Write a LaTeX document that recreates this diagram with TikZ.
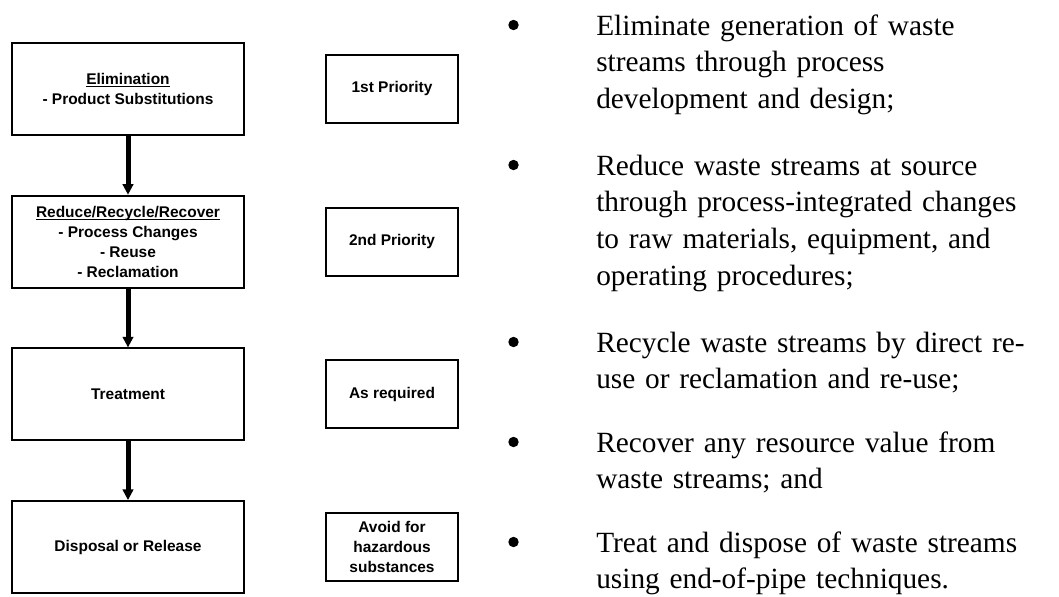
\documentclass[tikz,border=0pt]{standalone}
\usepackage{amsmath}
\usepackage{fontspec}
\setmainfont{Liberation Serif}
\setsansfont{Liberation Sans}
\usetikzlibrary{arrows.meta}

\newcommand{\headline}[1]{\underline{\smash[b]{#1}}}

\tikzset{
  stage/.style={draw, line width=1.3pt, minimum width=174pt, minimum height=69pt,
    inner sep=0pt, align=center, font=\sffamily\bfseries\fontsize{11.6}{15}\selectfont},
  prio/.style={stage, minimum width=99pt, minimum height=51pt},
  item/.style={anchor=base west, inner sep=0pt, text width=345pt, align=left,
    font=\fontsize{22}{27.5}\selectfont},
  dot/.style={circle, fill, minimum size=7.8pt, inner sep=0pt}
}

\begin{document}
\begin{tikzpicture}[x=0.75pt,y=-0.75pt,>={Triangle[width=7.8pt,length=8pt]},node distance=114.5pt]
      \useasboundingbox (0,0) rectangle (1059,596);

      \node[stage] at (128,89) (elim){\headline{Elimination}\\- Product Substitutions};
      \node[stage] [below of=elim] (reduce){\headline{Reduce/Recycle/Recover}\\- Process Changes\\- Reuse\\- Reclamation};
      \node[stage] [below of=reduce] (treat){Treatment};
      \node[stage] [below of=treat] (disp){Disposal or Release};

      \node[prio] [right of=elim, node distance=198pt] (p1){1st Priority};
      \node[prio] [right of=reduce, node distance=198pt] (p2){2nd Priority};
      \node[prio] [right of=treat, node distance=198pt] (p3){As required};
      \node[prio] [right of=disp, node distance=198pt] (p4){Avoid for\\hazardous\\substances};

      \path[->, line width=3.75pt]
        (elim) edge (reduce)
        (reduce) edge (treat)
        (treat) edge (disp)
      ;

      % bullet list on the right
      \node[dot] at (513.5,25) (b1){};
      \node[item] at (596,35) (t1){Eliminate generation of waste\\streams through process\\development and design;};
      \node[dot] at (513.5,165) (b2){};
      \node[item] at (596,175) (t2){Reduce waste streams at source\\through process-integrated changes\\to raw materials, equipment, and\\operating procedures;};
      \node[dot] at (513.5,342) (b3){};
      \node[item] at (596,352) (t3){Recycle waste streams by direct re-\\use or reclamation and re-use;};
      \node[dot] at (513.5,442) (b4){};
      \node[item] at (596,452) (t4){Recover any resource value from\\waste streams; and};
      \node[dot] at (513.5,542) (b5){};
      \node[item] at (596,552) (t5){Treat and dispose of waste streams\\using end-of-pipe techniques.};

    \end{tikzpicture}
\end{document}
